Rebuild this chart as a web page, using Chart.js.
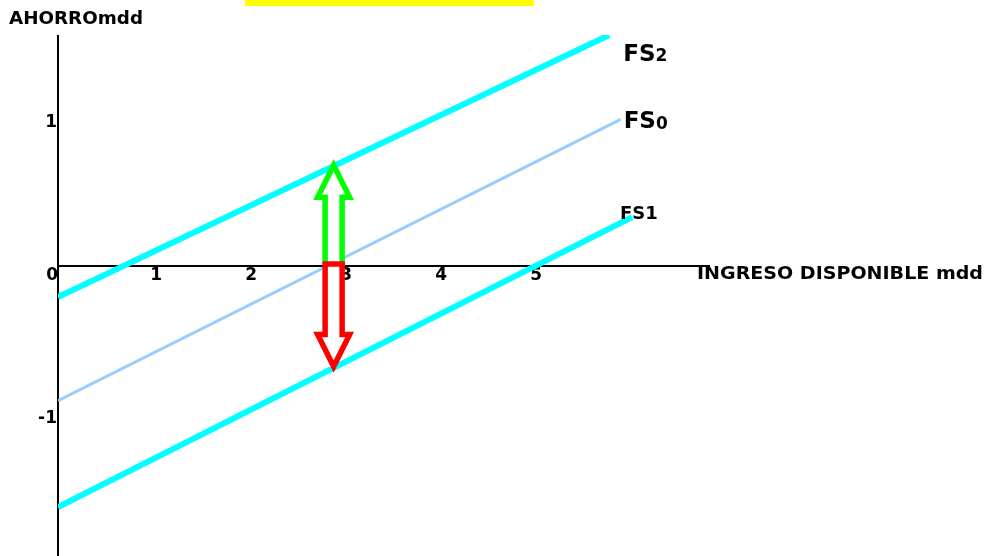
<!DOCTYPE html>
<html>
<head>
<meta charset="utf-8">
<script src="https://cdn.jsdelivr.net/npm/chart.js@4/dist/chart.umd.min.js"></script>
<style>
  html, body { margin: 0; padding: 0; background: #fff; }
  #wrap { width: 1000px; height: 556px; position: relative; }
</style>
</head>
<body>
<div id="wrap"><canvas id="chart"></canvas></div>
<script>
  // valores (unidades: mdd)
  const xTicks = [0, 1, 2, 3, 4, 5];
  const yTicks = [1, -1];

  const fs2X = [0, 5.8];
  const fs2Y = [-0.21, 1.56];
  const fs0X = [0, 5.92];
  const fs0Y = [-0.91, 0.99];
  const fs1X = [0, 6.04];
  const fs1Y = [-1.63, 0.33];

  const flechaX = 2.9;
  const flechaSube = 0.68;   // hasta FS2
  const flechaBaja = -0.68;  // hasta FS1

  const FONT = '"Comic Sans MS", "DejaVu Sans", sans-serif';

  const toPts = (xs, ys) => xs.map((x, i) => ({ x, y: ys[i] }));

  // texto estirado a un ancho dado (la fuente original es mas ancha)
  function textoAncho(ctx, txt, px, py, ancho) {
    let w = ctx.measureText(txt).width;
    ctx.save();
    ctx.translate(px, py);
    ctx.scale(ancho / w, 1);
    ctx.fillText(txt, 0, 0);
    ctx.restore();
  }

  /*
    ===== ejes, etiquetas y flechas =====
  */
  const ejes = {
    id: 'ejes',
    beforeDatasetsDraw(chart) {
      const { ctx, scales: { x, y }, chartArea: a } = chart;
      ctx.save();
      // recuadro amarillo del titulo (cortado)
      ctx.fillStyle = '#ffff00';
      ctx.fillRect(245, 0, 289, 6);

      ctx.strokeStyle = '#000';
      ctx.lineWidth = 2;
      ctx.beginPath();
      ctx.moveTo(x.getPixelForValue(0), a.top);
      ctx.lineTo(x.getPixelForValue(0), a.bottom);
      ctx.moveTo(a.left, y.getPixelForValue(0));
      ctx.lineTo(a.right, y.getPixelForValue(0));
      ctx.stroke();

      ctx.fillStyle = '#000';
      ctx.font = 'bold 17px ' + FONT;
      ctx.textBaseline = 'middle';
      let y0 = y.getPixelForValue(0);
      xTicks.forEach(v => {
        let px = x.getPixelForValue(v);
        if (v === 0) { ctx.textAlign = 'right'; ctx.fillText('0', px, y0 + 10); }
        else { ctx.textAlign = 'center'; ctx.fillText(String(v), px + 3, y0 + 10); }
      });
      ctx.textAlign = 'right';
      yTicks.forEach(v => {
        ctx.fillText(String(v), x.getPixelForValue(0) - 1, y.getPixelForValue(v) + 5);
      });

      ctx.textAlign = 'left';
      ctx.font = 'bold 17px ' + FONT;
      textoAncho(ctx, 'AHORROmdd', 9, 20, 134);
      textoAncho(ctx, 'INGRESO DISPONIBLE mdd', 697, y0 + 9, 286);
      ctx.restore();
    },
    afterDatasetsDraw(chart) {
      const { ctx, scales: { x, y } } = chart;
      ctx.save();
      let cx = x.getPixelForValue(flechaX);
      let y0 = y.getPixelForValue(0) - 2;
      let shaft = 8.5, head = 16, headH = 32;

      // flecha verde (sube)
      let top = y.getPixelForValue(flechaSube);
      ctx.lineWidth = 5.5;
      ctx.lineJoin = 'miter';
      ctx.beginPath();
      ctx.moveTo(cx - shaft, y0);
      ctx.lineTo(cx - shaft, top + headH);
      ctx.lineTo(cx - head, top + headH);
      ctx.lineTo(cx, top);
      ctx.lineTo(cx + head, top + headH);
      ctx.lineTo(cx + shaft, top + headH);
      ctx.lineTo(cx + shaft, y0);
      ctx.fillStyle = '#fff';
      ctx.fill();
      ctx.strokeStyle = '#00ff00';
      ctx.stroke();

      // flecha roja (baja)
      let bot = y.getPixelForValue(flechaBaja);
      ctx.beginPath();
      ctx.moveTo(cx - shaft, y0);
      ctx.lineTo(cx - shaft, bot - headH);
      ctx.lineTo(cx - head, bot - headH);
      ctx.lineTo(cx, bot);
      ctx.lineTo(cx + head, bot - headH);
      ctx.lineTo(cx + shaft, bot - headH);
      ctx.lineTo(cx + shaft, y0);
      ctx.closePath();
      ctx.fill();
      ctx.strokeStyle = '#ff0000';
      ctx.stroke();

      // nombres de las rectas
      ctx.fillStyle = '#000';
      ctx.textBaseline = 'middle';
      ctx.textAlign = 'left';
      const nombre = (big, small, px, py, s1, s2) => {
        ctx.font = 'bold ' + s1 + 'px ' + FONT;
        ctx.fillText(big, px, py);
        let w = ctx.measureText(big).width;
        ctx.font = 'bold ' + s2 + 'px ' + FONT;
        ctx.fillText(small, px + w, py + 2);
      };
      nombre('FS', '2', x.getPixelForValue(fs2X[1]) + 14, y.getPixelForValue(fs2Y[1]) + 20, 23, 17);
      nombre('FS', '0', x.getPixelForValue(fs0X[1]) + 3, y.getPixelForValue(fs0Y[1]) + 3, 23, 17);
      nombre('FS1', '', x.getPixelForValue(fs1X[1]) - 12, y.getPixelForValue(fs1Y[1]) - 3, 18, 18);
      ctx.restore();
    }
  };

  let ctxChart = document.getElementById('chart').getContext('2d');

  let chartFS = new Chart(ctxChart, {
    type: 'line',
    data: {
      datasets: [{
        label: 'FS2',
        data: toPts(fs2X, fs2Y),
        borderColor: '#00ffff',
        borderWidth: 6
      }, {
        label: 'FS0',
        data: toPts(fs0X, fs0Y),
        borderColor: '#99ccff',
        borderWidth: 3
      }, {
        label: 'FS1',
        data: toPts(fs1X, fs1Y),
        borderColor: '#00ffff',
        borderWidth: 6
      }]
    },
    options: {
      responsive: true,
      maintainAspectRatio: false,
      animation: false,
      layout: { padding: { left: 58, right: 290, top: 35, bottom: 0 } },
      elements: { point: { radius: 0 }, line: { borderCapStyle: 'butt' } },
      plugins: { legend: { display: false }, tooltip: { enabled: false } },
      scales: {
        x: { type: 'linear', min: 0, max: 6.86, display: false },
        y: { type: 'linear', min: -1.96, max: 1.56, display: false }
      }
    },
    plugins: [ejes]
  });
</script>
</body>
</html>
